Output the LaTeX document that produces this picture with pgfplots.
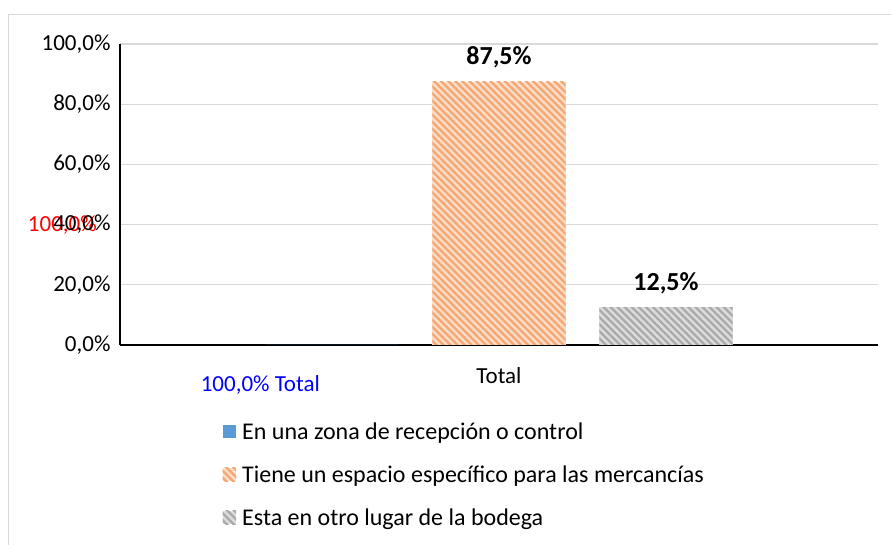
\documentclass[border=0pt]{standalone}
\usepackage{pgfplots}
\pgfplotsset{compat=1.18}
\usepackage{fontspec}
\setmainfont{Carlito}
\usetikzlibrary{patterns.meta}
\definecolor{gridgray}{HTML}{D9D9D9}
\definecolor{blueS}{HTML}{5B9BD5}
\definecolor{orBg}{HTML}{FBDCC6}
\definecolor{orFg}{HTML}{F4A673}
\definecolor{grBg}{HTML}{DCDCDC}
\definecolor{grFg}{HTML}{AAAAAA}
\begin{document}
\begin{tikzpicture}[x=1pt,y=1pt]
\useasboundingbox (-120,-200) rectangle (771,345);
\draw[gridgray,line width=1.6pt] (-111.5,-201) -- (-111.5,330.5) -- (772,330.5);
\node[anchor=east,inner sep=0pt,font=\fontsize{23}{27}\selectfont,red] at (-23,120) {100,0\%};
\node[anchor=east,inner sep=0pt,font=\fontsize{23}{27}\selectfont,blue] at (200,-40) {100,0\% Total};
\begin{axis}[
  at={(0,0)}, anchor=south west,
  scale only axis, width=758pt, height=301pt,
  xmin=-0.5, xmax=0.5, ymin=0, ymax=100,
  axis x line*=bottom, axis y line*=left,
  axis line style={black, line width=1.3pt},
  xtick={0}, xticklabels={Total},
  ytick={0,20,40,60,80,100},
  yticklabels={{0,0\%},{20,0\%},{40,0\%},{60,0\%},{80,0\%},{100,0\%}},
  major tick length=0pt,
  ymajorgrids, grid style={gridgray, line width=1.3pt},
  xticklabel style={font=\fontsize{23}{27}\selectfont, yshift=-19pt},
  yticklabel style={font=\fontsize{23}{27}\selectfont, xshift=-6pt},
  /pgf/number format/assume math mode=true,
  ybar, bar width=0.1755,
  legend cell align=left,
  legend style={at={(0.1352,-0.25)}, anchor=north west, draw=none, fill=none,
    font=\fontsize{24}{28}\selectfont, row sep=21pt, column sep=4pt, inner sep=0pt,
    nodes={inner sep=2pt}},
  legend image code/.code={\path[#1,draw=none] (0pt,-6.5pt) rectangle (13.5pt,7pt);},
  nodes near coords style={font=\fontsize{26}{30}\selectfont\bfseries, yshift=10pt},
]
\addplot[bar shift=0pt, draw=none, fill=blueS] coordinates {(-0.2203,0)};
\addlegendentry{En una zona de recepción o control}
\addplot[bar shift=0pt, draw=none, preaction={fill=orBg}, pattern={Lines[angle=-45,distance=5pt,line width=2.3pt]}, pattern color=orFg,
  nodes near coords={\pgfmathprintnumber[fixed,fixed zerofill,precision=1,use comma,assume math mode=true]{\pgfplotspointmeta}\%}] coordinates {(0,87.5)};
\addlegendentry{Tiene un espacio específico para las mercancías}
\addplot[bar shift=0pt, draw=none, preaction={fill=grBg}, pattern={Lines[angle=-45,distance=5pt,line width=2.3pt]}, pattern color=grFg,
  nodes near coords={\pgfmathprintnumber[fixed,fixed zerofill,precision=1,use comma,assume math mode=true]{\pgfplotspointmeta}\%}] coordinates {(0.2203,12.5)};
\addlegendentry{Esta en otro lugar de la bodega}
\end{axis}
\end{tikzpicture}
\end{document}
